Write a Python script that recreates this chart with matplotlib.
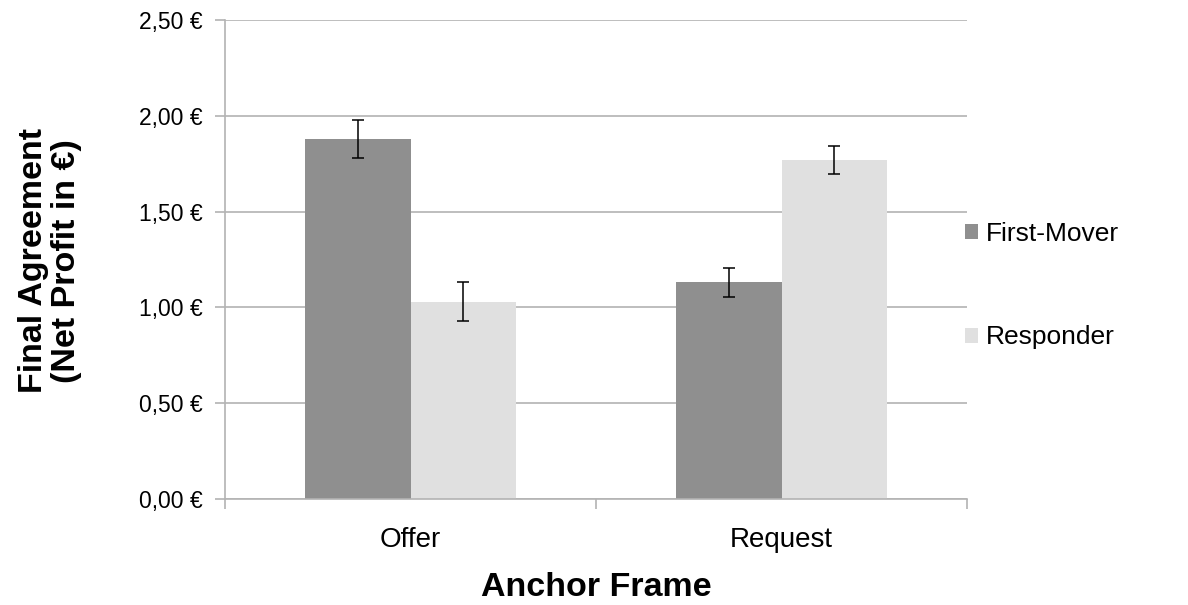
import matplotlib
matplotlib.use("Agg")
import matplotlib.pyplot as plt
import numpy as np
from matplotlib.ticker import FuncFormatter

categories = ["Offer", "Request"]
series_names = ["First-Mover", "Responder"]
first_mover = [1.88, 1.13]
responder = [1.03, 1.77]
first_mover_err = [0.10, 0.077]
responder_err = [0.10, 0.073]
colors = ["#8f8f8f", "#e0e0e0"]
yticks = [0.0, 0.5, 1.0, 1.5, 2.0, 2.5]

plt.rcParams['font.family'] = ['Liberation Sans', 'DejaVu Sans']
grid_c = "#b3b3b3"

fig = plt.figure(figsize=(11.88, 6.05), dpi=100)
ax = fig.add_axes([225/1188, 1-499/605, (967-225)/1188, (499-20)/605])

x = np.arange(len(categories))
w = 0.284
ax.bar(x - w/2, first_mover, w, color=colors[0], label=series_names[0], zorder=2)
ax.bar(x + w/2, responder, w, color=colors[1], label=series_names[1], zorder=2)
ax.errorbar(x - w/2, first_mover, yerr=first_mover_err, fmt='none', ecolor='black',
            elinewidth=1.1, capsize=4.5, capthick=1.1, zorder=3)
ax.errorbar(x + w/2, responder, yerr=responder_err, fmt='none', ecolor='black',
            elinewidth=1.1, capsize=4.5, capthick=1.1, zorder=3)

ax.set_xlim(-0.5, len(categories) - 0.5)
ax.set_ylim(0, 2.5)
ax.set_yticks(yticks)
ax.yaxis.set_major_formatter(FuncFormatter(lambda v, p: f"{v:.2f}".replace('.', ',') + " €"))
ax.grid(axis='y', color=grid_c, linewidth=1.2, zorder=0)
ax.set_axisbelow(True)

ax.set_xticks(np.arange(len(categories) + 1) - 0.5)
ax.set_xticklabels([])
ax.set_xticks(x, minor=True)
ax.set_xticklabels(categories, minor=True, fontsize=20)
ax.tick_params(axis='x', which='major', length=7, color=grid_c, width=1.2)
ax.tick_params(axis='x', which='minor', length=0, pad=20)
ax.tick_params(axis='y', length=7, color=grid_c, width=1.2, pad=9, labelsize=16.5)

for s in ['top', 'right']:
    ax.spines[s].set_visible(False)
for s in ['left', 'bottom']:
    ax.spines[s].set_color(grid_c)
    ax.spines[s].set_linewidth(1.2)

ax.set_ylabel("Final Agreement\n(Net Profit in €)", fontsize=24.5, fontweight='bold',
              linespacing=1.1)
ax.yaxis.set_label_coords((82-225)/742, 0.497)
ax.set_xlabel("Anchor Frame", fontsize=24.5, fontweight='bold', labelpad=14)

leg = ax.legend(loc='center left', bbox_to_anchor=(0.983, 0.445), frameon=False,
                fontsize=19, handlelength=0.5, handleheight=0.5, handletextpad=0.3,
                labelspacing=3.0, borderaxespad=0)

fig.savefig("out.png", dpi=100, facecolor='white')
